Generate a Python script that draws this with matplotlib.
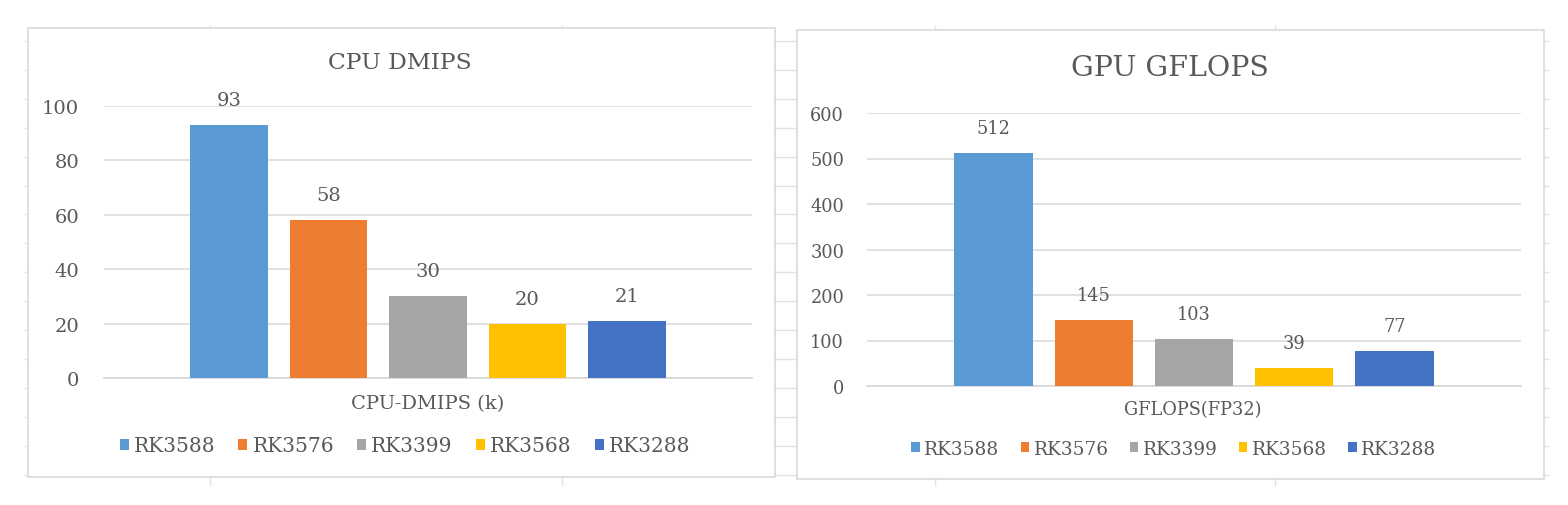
"""Two Excel-style benchmark column charts (CPU DMIPS, GPU GFLOPS) side by side."""

import matplotlib

matplotlib.use("Agg")
import matplotlib.pyplot as plt  # noqa: E402
from matplotlib.patches import Rectangle  # noqa: E402

# data
chips = ["RK3588", "RK3576", "RK3399", "RK3568", "RK3288"]
cpu_dmips = [93, 58, 30, 20, 21]
gpu_gflops = [512, 145, 103, 39, 77]
cpu_ticks = [0, 20, 40, 60, 80, 100]
gpu_ticks = [0, 100, 200, 300, 400, 500, 600]

C = {
    "bars": ["#5b9bd5", "#ed7d31", "#a5a5a5", "#ffc000", "#4472c4"],
    "text": "#595959",
    "grid": "#d9d9d9",
    "sheet": "#e3e3e3",
    "box": "#d9d9d9",
}

W, H = 1568, 506
plt.rcParams.update({"font.family": ["DejaVu Serif"], "text.color": C["text"]})

fig = plt.figure(figsize=(W / 100, H / 100), dpi=100)
fig.patch.set_facecolor("white")


def fx(x):
    return x / W


def fy(y):
    return 1 - y / H


# spreadsheet backdrop (cell lines peeking around the chart boxes)
bg = fig.add_axes([0, 0, 1, 1], zorder=0)
bg.set_xlim(0, W)
bg.set_ylim(H, 0)
bg.axis("off")
rows = [42 + 28.9 * k for k in range(16)]
bg.hlines(rows, 24, 1549, color=C["sheet"], linewidth=1, zorder=1)
bg.vlines([210, 562, 935, 1275], 26, 487, color=C["sheet"], linewidth=1, zorder=1)
for x0, y0, x1, y1 in [(28, 29, 775, 478), (797, 31, 1544, 480)]:
    bg.add_patch(Rectangle((x0, y0), x1 - x0, y1 - y0, facecolor="white",
                           edgecolor=C["box"], linewidth=1.2, zorder=3))


def column_chart(rect, values, ticks, fs, pad, title, title_fs, title_xy,
                 xlabel, xlabel_xy, legend_xy):
    left, top, right, bottom = rect
    ax = fig.add_axes([fx(left), fy(bottom), fx(right) - fx(left), fy(top) - fy(bottom)], zorder=2)
    ax.patch.set_alpha(0)
    pos = list(range(len(values)))
    bars = ax.bar(pos, values, width=0.78, color=C["bars"], zorder=3)
    ax.set_xlim(-1.26, 5.26)
    ax.set_ylim(ticks[0], ticks[-1])
    ax.set_yticks(ticks)
    ax.set_yticklabels([str(t) for t in ticks], fontsize=fs, color=C["text"])
    ax.set_xticks([])
    ax.tick_params(axis="y", length=0, pad=pad)
    ax.grid(True, axis="y", color=C["grid"], linewidth=1.1, zorder=0)
    for s in ax.spines.values():
        s.set_visible(False)
    ax.axhline(ticks[0], color=C["grid"], linewidth=1.3, zorder=2, clip_on=False)
    for b, v in zip(bars, values):
        ax.annotate(f"{v}", (b.get_x() + b.get_width() / 2, v), xytext=(0, 18),
                    textcoords="offset points", ha="center", va="center",
                    fontsize=fs, color=C["text"], annotation_clip=False)
    fig.text(fx(title_xy[0]), fy(title_xy[1]), title, fontsize=title_fs,
             ha="center", va="center", color=C["text"])
    fig.text(fx(xlabel_xy[0]), fy(xlabel_xy[1]), xlabel, fontsize=fs,
             ha="center", va="center", color=C["text"])
    fig.legend(bars, chips, loc="center", bbox_to_anchor=(fx(legend_xy[0]), fy(legend_xy[1])),
               ncol=5, frameon=False, fontsize=fs + 0.5, handlelength=0.45, handleheight=0.45,
               handletextpad=0.25, columnspacing=1.15, labelcolor=C["text"])
    return ax


column_chart((104, 107, 752, 379), cpu_dmips, cpu_ticks, 14, 18,
             "CPU DMIPS", 16.8, (400, 63), "CPU-DMIPS (k)", (428, 404), (405, 447))
column_chart((867, 114, 1521, 387), gpu_gflops, gpu_ticks, 12.8, 16.5,
             "GPU GFLOPS", 20.4, (1170, 68), "GFLOPS(FP32)", (1193, 410), (1174, 450))

fig.savefig("out.png", dpi=100, facecolor="white")
